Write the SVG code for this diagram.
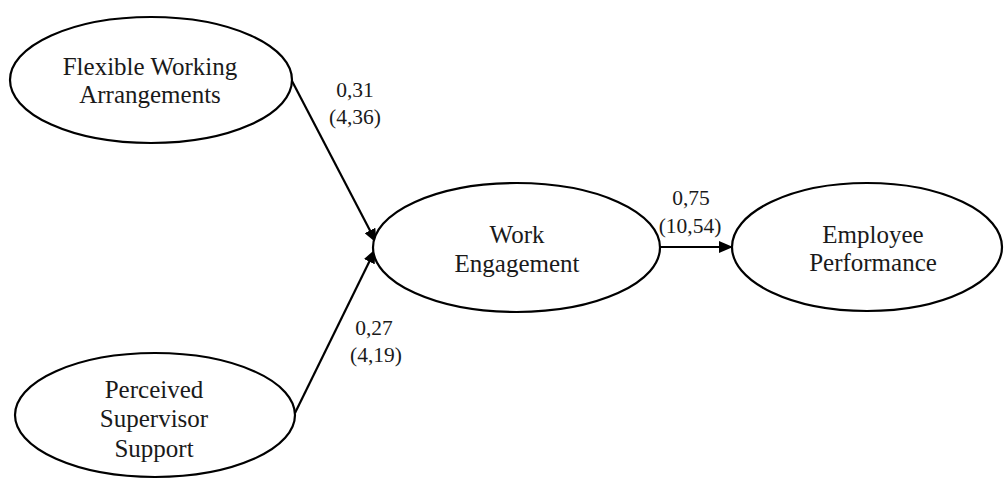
<svg xmlns="http://www.w3.org/2000/svg" width="1004" height="479" viewBox="0 0 1004 479">
  <style>
    .node { fill: #ffffff; stroke: #000000; stroke-width: 2.2; }
    .nt { font-family: "Liberation Serif", "Times New Roman", serif; font-size: 25px; fill: #1a1a1a; text-anchor: middle; }
    .lt { font-family: "Liberation Serif", "Times New Roman", serif; font-size: 21.5px; fill: #1a1a1a; text-anchor: middle; }
    .edge { fill: none; stroke: #000000; stroke-width: 2.2; }
  </style>
  <defs>
    <marker id="arrow" markerUnits="userSpaceOnUse" markerWidth="14" markerHeight="12" refX="13" refY="6" orient="auto">
      <path d="M0,0 L14,6 L0,12 Z" fill="#000000"/>
    </marker>
  </defs>
  <rect width="1004" height="479" fill="#ffffff"/>

  <g id="connectors">
    <line class="edge" x1="292" y1="81" x2="376" y2="242" marker-end="url(#arrow)"/>
    <line class="edge" x1="295" y1="413" x2="375" y2="250" marker-end="url(#arrow)"/>
    <line class="edge" x1="660" y1="247" x2="732" y2="247" marker-end="url(#arrow)"/>
    <text class="lt" x="355" y="97">0,31</text>
    <text class="lt" x="355" y="124">(4,36)</text>
    <text class="lt" x="374" y="335">0,27</text>
    <text class="lt" x="376" y="362">(4,19)</text>
    <text class="lt" x="691" y="205">0,75</text>
    <text class="lt" x="690" y="233">(10,54)</text>
  </g>

  <g id="node-fwa">
    <ellipse class="node" cx="151" cy="80" rx="141" ry="63"/>
    <text class="nt" x="150" y="75">Flexible Working</text>
    <text class="nt" x="150" y="103">Arrangements</text>
  </g>

  <g id="node-pss">
    <ellipse class="node" cx="155" cy="415" rx="140" ry="62"/>
    <text class="nt" x="154" y="398">Perceived</text>
    <text class="nt" x="154" y="427">Supervisor</text>
    <text class="nt" x="154" y="457">Support</text>
  </g>

  <g id="node-we">
    <ellipse class="node" cx="516.5" cy="247.5" rx="143.5" ry="64.5"/>
    <text class="nt" x="517" y="243">Work</text>
    <text class="nt" x="517" y="272">Engagement</text>
  </g>

  <g id="node-ep">
    <ellipse class="node" cx="867" cy="247" rx="135" ry="64"/>
    <text class="nt" x="873" y="243">Employee</text>
    <text class="nt" x="873" y="271">Performance</text>
  </g>
</svg>
